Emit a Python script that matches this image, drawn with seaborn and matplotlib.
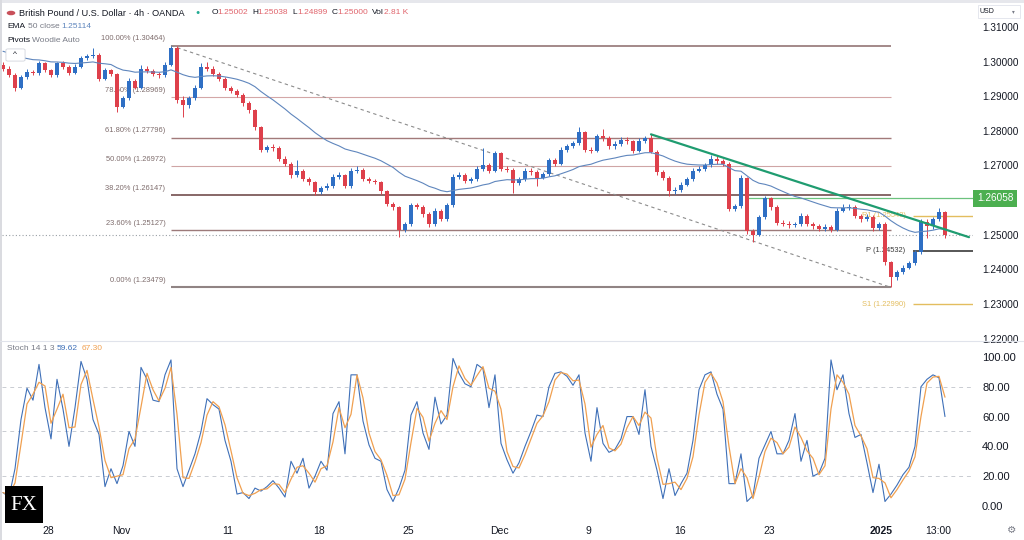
import numpy as np
import pandas as pd
import seaborn as sns
import matplotlib.pyplot as plt
from matplotlib.patches import Rectangle, FancyBboxPatch

# GBP/USD candles (one candle ~ 8h)
first_open = 1.2990
closes = [1.2980, 1.2962, 1.2925, 1.2955, 1.2970, 1.2966, 1.2995, 1.2975, 1.2960, 1.2995,
          1.2985, 1.2968, 1.2985, 1.3010, 1.3015, 1.3020, 1.2950, 1.2975, 1.2965, 1.2870,
          1.2895, 1.2945, 1.2925, 1.2980, 1.2972, 1.2965, 1.2960, 1.2990, 1.3040, 1.2890,
          1.2875, 1.2895, 1.2925, 1.2985, 1.2980, 1.2965, 1.2950, 1.2925, 1.2915, 1.2905,
          1.2880, 1.2860, 1.2810, 1.2745, 1.2752, 1.2750, 1.2720, 1.2705, 1.2672, 1.2685,
          1.2660, 1.2652, 1.2622, 1.2636, 1.2640, 1.2668, 1.2672, 1.2640, 1.2685, 1.2688,
          1.2660, 1.2656, 1.2652, 1.2625, 1.2590, 1.2580, 1.2515, 1.2530, 1.2585, 1.2580,
          1.2560, 1.2530, 1.2570, 1.2545, 1.2585, 1.2668, 1.2672, 1.2655, 1.2660, 1.2690,
          1.2700, 1.2685, 1.2735, 1.2690, 1.2688, 1.2650, 1.2660, 1.2685, 1.2680, 1.2665,
          1.2675, 1.2716, 1.2705, 1.2745, 1.2755, 1.2765, 1.2797, 1.2745, 1.2742, 1.2785,
          1.2780, 1.2755, 1.2762, 1.2775, 1.2770, 1.2742, 1.2772, 1.2778, 1.2740, 1.2680,
          1.2665, 1.2625, 1.2630, 1.2645, 1.2660, 1.2685, 1.2690, 1.2700, 1.2720, 1.2712,
          1.2705, 1.2575, 1.2582, 1.2664, 1.2510, 1.2500, 1.2551, 1.2606, 1.2580, 1.2535,
          1.2532, 1.2528, 1.2530, 1.2555, 1.2530, 1.2525, 1.2518, 1.2522, 1.2515, 1.2570,
          1.2578, 1.2580, 1.2555, 1.2545, 1.2552, 1.2520, 1.2530, 1.2420, 1.2378, 1.2392,
          1.2405, 1.2418, 1.2450, 1.2537, 1.2525, 1.2545, 1.2565, 1.2500]
highs = [1.2998, 1.2986, 1.2966, 1.2960, 1.2978, 1.2976, 1.3002, 1.2999, 1.2980, 1.3000,
         1.3001, 1.2990, 1.2992, 1.3016, 1.3022, 1.3040, 1.3024, 1.2982, 1.2980, 1.2968,
         1.2900, 1.2952, 1.2950, 1.2990, 1.2986, 1.2978, 1.2970, 1.2998, 1.30464, 1.3044,
         1.2902, 1.2902, 1.2932, 1.2995, 1.2998, 1.2986, 1.2970, 1.2955, 1.2930, 1.2920,
         1.2910, 1.2885, 1.2864, 1.2815, 1.2760, 1.2762, 1.2755, 1.2726, 1.2710, 1.2716,
         1.2690, 1.2666, 1.2656, 1.2642, 1.2648, 1.2675, 1.2680, 1.2676, 1.2692, 1.2698,
         1.2692, 1.2666, 1.2662, 1.2656, 1.2630, 1.2596, 1.2584, 1.2538, 1.2592, 1.2592,
         1.2586, 1.2565, 1.2578, 1.2575, 1.2592, 1.2675, 1.2682, 1.2678, 1.2668, 1.2698,
         1.2750, 1.2706, 1.2742, 1.2740, 1.2698, 1.2692, 1.2668, 1.2692, 1.2692, 1.2686,
         1.2682, 1.2722, 1.2722, 1.2752, 1.2762, 1.2772, 1.2811, 1.2800, 1.2752, 1.2792,
         1.2805, 1.2785, 1.2770, 1.2782, 1.2782, 1.2775, 1.2780, 1.2785, 1.2790, 1.2745,
         1.2686, 1.2670, 1.2638, 1.2652, 1.2668, 1.2692, 1.2698, 1.2708, 1.2730, 1.2726,
         1.2718, 1.2710, 1.2590, 1.2672, 1.2668, 1.2518, 1.2558, 1.2612, 1.2610, 1.2585,
         1.2542, 1.2540, 1.2538, 1.2562, 1.2560, 1.2536, 1.2530, 1.2530, 1.2528, 1.2576,
         1.2588, 1.2590, 1.2585, 1.2560, 1.2560, 1.2556, 1.2538, 1.2536, 1.2425, 1.2398,
         1.2412, 1.2425, 1.2456, 1.2545, 1.2545, 1.2552, 1.2577, 1.2570]
lows = [1.2972, 1.2955, 1.2915, 1.2920, 1.2950, 1.2960, 1.2962, 1.2970, 1.2955, 1.2957,
        1.2980, 1.2962, 1.2964, 1.2982, 1.3005, 1.3010, 1.2945, 1.2946, 1.2958, 1.2854,
        1.2865, 1.2890, 1.2920, 1.2922, 1.2966, 1.2958, 1.2954, 1.2956, 1.2986, 1.2880,
        1.2840, 1.2866, 1.2890, 1.2920, 1.2972, 1.2958, 1.2944, 1.2918, 1.2908, 1.2898,
        1.2872, 1.2852, 1.2802, 1.2738, 1.2740, 1.2742, 1.2712, 1.2698, 1.2664, 1.2668,
        1.2655, 1.2645, 1.2615, 1.2618, 1.2630, 1.2636, 1.2660, 1.2635, 1.2636, 1.2678,
        1.2654, 1.2650, 1.2646, 1.2618, 1.2583, 1.2572, 1.2493, 1.2508, 1.2526, 1.2574,
        1.2552, 1.2522, 1.2526, 1.2540, 1.2540, 1.2580, 1.2660, 1.2648, 1.2650, 1.2655,
        1.2685, 1.2678, 1.2680, 1.2684, 1.2680, 1.2620, 1.2644, 1.2655, 1.2672, 1.2640,
        1.2660, 1.2670, 1.2698, 1.2700, 1.2740, 1.2750, 1.2760, 1.2738, 1.2735, 1.2738,
        1.2772, 1.2748, 1.2748, 1.2756, 1.2762, 1.2735, 1.2738, 1.2765, 1.2735, 1.2672,
        1.2658, 1.2612, 1.2618, 1.2624, 1.2640, 1.2655, 1.2680, 1.2684, 1.2695, 1.2705,
        1.2698, 1.2568, 1.2568, 1.2578, 1.2502, 1.2478, 1.2496, 1.2545, 1.2572, 1.2528,
        1.2525, 1.2520, 1.2522, 1.2525, 1.2524, 1.2518, 1.2510, 1.2512, 1.2508, 1.2510,
        1.2565, 1.2572, 1.2548, 1.2538, 1.2540, 1.2512, 1.2515, 1.2412, 1.23479, 1.2370,
        1.2388, 1.2400, 1.2414, 1.2445, 1.2490, 1.2518, 1.2540, 1.2490]

# Stochastic %K (14 1 3)
stoch_k = [9, 6, 25, 58, 79, 71, 95, 66, 45, 85,
           65, 40, 66, 97, 85, 58, 48, 13, 25, 15,
           27, 50, 40, 93, 85, 71, 70, 88, 98, 25,
           13, 24, 35, 50, 72, 68, 65, 44, 30, 8,
           9, 5, 12, 10, 13, 17, 12, 6, 30, 22,
           32, 12, 20, 30, 24, 62, 70, 35, 88, 88,
           57, 41, 32, 30, 11, 3, 12, 24, 61, 70,
           49, 38, 73, 55, 61, 99, 89, 82, 80, 95,
           92, 66, 88, 42, 31, 22, 29, 40, 50, 61,
           60, 80, 89, 90, 87, 81, 88, 49, 30, 66,
           42, 36, 38, 45, 60, 60, 48, 78, 40, 24,
           5, 25, 7, 15, 22, 44, 78, 88, 90, 75,
           65, 15, 15, 35, 3, 7, 32, 41, 50, 35,
           35, 44, 62, 30, 44, 20, 22, 32, 98, 78,
           88, 62, 46, 48, 29, 9, 28, 3, 8, 14,
           21, 26, 40, 80, 85, 88, 86, 60]

ema_seed = 1.3034
ema_span = 25

fib_pcts = [1.0, 0.786, 0.618, 0.5, 0.382, 0.236, 0.0]
fib_colors = ['#8a6a6a', '#d4a7a7', '#a27a7a', '#cfa5a5', '#7e5c5c', '#9c7a7a', '#908484']
fib_widths = [1.1, 0.8, 1.0, 0.8, 1.3, 1.0, 1.5]

pivot_names = ['R1', 'P', 'S1']
pivot_values = [1.25543, 1.24532, 1.22990]
pivot_colors = ['#e3bd5f', '#3a3a3a', '#e3bd5f']
pivot_start = 151.7

resistance = 1.26058
resistance_start = 123.7
trend_x = [108, 161]
trend_y = [1.2790, 1.2493]

price_ticks = [1.31, 1.30, 1.29, 1.28, 1.27, 1.26, 1.25, 1.24, 1.23, 1.22]
stoch_ticks = [0, 20, 40, 60, 80, 100]
stoch_levels = [80, 50, 20]
date_pos = [7.5, 19.7, 37.5, 52.7, 67.5, 82.8, 97.5, 112.8, 127.7, 146.3, 155.8]
date_labels = ['28', 'Nov', '11', '18', '25', 'Dec', '9', '16', '23', '2025', '13:00']

UP = '#2f6fc4'
DOWN = '#de404b'
EMA_C = '#5f86bd'
K_C = '#3f70b8'
D_C = '#f0a050'
TXT = '#131722'
GREY = '#787b86'

sns.set_theme(style="white")
plt.rcParams['font.family'] = ['Liberation Sans', 'DejaVu Sans']

W, H = 1024, 540
fig = plt.figure(figsize=(W / 100, H / 100), dpi=100)
ax1 = fig.add_axes([2 / W, 1 - 340 / H, 971 / W, 337 / H])
ax2 = fig.add_axes([2 / W, 1 - 520 / H, 971 / W, 179 / H])

n = len(closes)
idx = np.arange(n)
opens = [first_open] + closes[:-1]
candles = pd.DataFrame({'open': opens, 'close': closes, 'high': highs, 'low': lows})
col = np.where(candles['close'] >= candles['open'], UP, DOWN)
body_lo = candles[['open', 'close']].min(axis=1)
body_h = (candles['close'] - candles['open']).abs().clip(lower=0.00015)

# candles
ax1.vlines(idx, candles['low'], candles['high'], colors=col, lw=0.7, zorder=4)
ax1.bar(idx, body_h, bottom=body_lo, width=0.6, color=col, linewidth=0, zorder=5)

# EMA 50
ema = pd.Series([ema_seed] + closes).ewm(span=ema_span, adjust=False).mean().iloc[1:].values
sns.lineplot(x=idx, y=ema, ax=ax1, color=EMA_C, lw=0.8, zorder=6)

# fibonacci retracement
hi_i = int(np.argmax(highs))
lo_i = int(np.argmin(lows))
fib_hi, fib_lo = highs[hi_i], lows[lo_i]
for pct, c, lw in zip(fib_pcts, fib_colors, fib_widths):
    lvl = fib_lo + (fib_hi - fib_lo) * pct
    ax1.hlines(lvl, hi_i, lo_i, colors=c, lw=lw, zorder=2)
    ax1.annotate(f"{pct * 100:.2f}% ({lvl:.5f})", xy=(hi_i, lvl), xytext=(-4, 5),
                 textcoords='offset points', ha='right', va='center',
                 fontsize=5.4, color='#7d6b6b', zorder=1)
ax1.plot([hi_i, lo_i], [fib_hi, fib_lo], ls=(0, (3, 3)), color='#8c8c8c', lw=0.8, zorder=2)

# pivots
xmax = 161.67
for name, v, c in zip(pivot_names, pivot_values, pivot_colors):
    ax1.hlines(v, pivot_start, xmax, colors=c, lw=1.2 if name == 'P' else 1.0, zorder=2)
    ax1.text(pivot_start - 1.3, v, f"{name} ({v:.5f})", ha='right', va='center',
             fontsize=5.4, color=c, zorder=1)

# resistance, trend line, last price
ax1.hlines(resistance, resistance_start, xmax, colors='#6cc27e', lw=0.9, zorder=2)
ax1.plot(trend_x, trend_y, color='#1f9c70', lw=1.6, zorder=7, solid_capstyle='round')
ax1.axhline(closes[-1], color='#9aa0a6', ls=(0, (1, 2)), lw=0.8, zorder=1)
ax1.annotate(f"{resistance:.5f}", xy=(1.004, resistance), xycoords=('axes fraction', 'data'),
             ha='left', va='center', fontsize=7.2, color='white', annotation_clip=False,
             bbox=dict(boxstyle='square,pad=0.35', fc='#4caf50', ec='none'), zorder=10)

ax1.set_xlim(-1 / 6, xmax)
ax1.set_ylim(1.2196, 1.31693)
ax1.yaxis.tick_right()
ax1.set_yticks(price_ticks)
# the 1.26000 label sits under the green resistance tag, as in the original
ax1.set_yticklabels(['' if abs(t - resistance) < 0.002 else f"{t:.5f}" for t in price_ticks])
ax1.tick_params(axis='y', length=0, pad=6.5, labelsize=7.2, labelcolor=TXT)
ax1.set_xticks([])
ax1.set_xlabel('')
ax1.set_ylabel('')

# stochastic
stoch = pd.DataFrame({'i': idx, 'k': stoch_k})
stoch['d'] = stoch['k'].rolling(2, min_periods=1).mean()
for lvl in stoch_levels:
    ax2.axhline(lvl, color='#c9ccd2', ls=(0, (4, 4)), lw=0.7, zorder=1)
sns.lineplot(data=stoch, x='i', y='k', ax=ax2, color=K_C, lw=0.8, zorder=3)
sns.lineplot(data=stoch, x='i', y='d', ax=ax2, color=D_C, lw=0.9, zorder=4)
ax2.set_xlim(-1 / 6, xmax)
ax2.set_ylim(-9.4, 110.7)
ax2.yaxis.tick_right()
ax2.set_yticks(stoch_ticks)
ax2.set_yticklabels([f"{t:.2f}" for t in stoch_ticks])
ax2.tick_params(axis='y', length=0, pad=6.5, labelsize=8, labelcolor=TXT)
ax2.set_xticks(date_pos)
ax2.set_xticklabels(date_labels)
ax2.tick_params(axis='x', length=0, pad=4, labelsize=7.5, labelcolor=TXT)
ax2.get_xticklabels()[9].set_fontweight('bold')
ax2.set_xlabel('')
ax2.set_ylabel('')

for ax in (ax1, ax2):
    ax.set_facecolor('white')
    for s in ax.spines.values():
        s.set_visible(False)


def ftxt(px, py, s, **kw):
    fig.text(px / W, 1 - py / H, s, va='center', ha='left', **kw)


# header / legends
ftxt(19, 13, "British Pound / U.S. Dollar · 4h · OANDA", fontsize=6.6, color=TXT)
fig.patches.append(plt.Circle((11 / W, 1 - 13 / H), 0.0042, transform=fig.transFigure,
                              fc='#c8505a', ec='none'))
ftxt(195, 13, "●", fontsize=5, color='#22ab94')
for px, lab, val in [(212, 'O', '1.25002'), (252, 'H', '1.25038'), (292, 'L', '1.24899'),
                     (332, 'C', '1.25000'), (372, 'Vol', '2.81 K')]:
    ftxt(px, 13, lab, fontsize=6, color=TXT)
    ftxt(px + (5 if len(lab) == 1 else 11.5), 13, val, fontsize=6, color='#e0646c')
ftxt(7, 26, "EMA", fontsize=6, color=TXT)
ftxt(27.5, 26, "50 close", fontsize=6, color=GREY)
ftxt(61, 26, "1.25114", fontsize=6, color=EMA_C)
ftxt(7, 40, "Pivots", fontsize=6, color=TXT)
ftxt(32.5, 40, "Woodie Auto", fontsize=6, color=GREY)
fig.patches.append(FancyBboxPatch((8 / W, 1 - 60 / H), 15 / W, 10 / H,
                                  boxstyle='round,pad=0.002', transform=fig.transFigure,
                                  fc='white', ec='#d1d4dc', lw=0.6))
ftxt(12.5, 55, "^", fontsize=6, color=TXT)
ftxt(7, 349, "Stoch 14 1 3", fontsize=6, color=GREY)
ftxt(57, 349, "59.62", fontsize=6, color=K_C)
ftxt(82, 349, "67.30", fontsize=6, color=D_C)

# USD box
fig.patches.append(Rectangle((978 / W, 1 - 18 / H), 42 / W, 13 / H, transform=fig.transFigure,
                             fc='white', ec='#e0e3eb', lw=0.6))
ftxt(980, 11.5, "USD", fontsize=5, color=TXT)
ftxt(1012, 11.5, "▾", fontsize=4, color=GREY)

# frame and separators
fig.patches.append(Rectangle((0, 1 - 3 / H), 1, 3 / H, transform=fig.transFigure,
                             fc='#e6e7ec', ec='none'))
fig.patches.append(Rectangle((0, 0), 1.5 / W, 1, transform=fig.transFigure,
                             fc='#dadbe0', ec='none'))
fig.lines.append(plt.Line2D([0, 1], [1 - 340.5 / H, 1 - 340.5 / H], transform=fig.transFigure,
                            color='#e0e3eb', lw=0.8))

# FX logo and gear
fig.patches.append(Rectangle((5 / W, 1 - 523 / H), 38 / W, 37 / H, transform=fig.transFigure,
                             fc='black', ec='none', zorder=10))
fig.text(24 / W, 1 - 505 / H, "FX", ha='center', va='center', fontsize=15, color='white',
         family=['Liberation Serif', 'DejaVu Serif'], zorder=11)
fig.text(1012 / W, 1 - 530 / H, "⚙", ha='center', va='center', fontsize=7.5, color=GREY,
         family=['DejaVu Sans'])

fig.savefig('out.png', dpi=100, facecolor='white')
